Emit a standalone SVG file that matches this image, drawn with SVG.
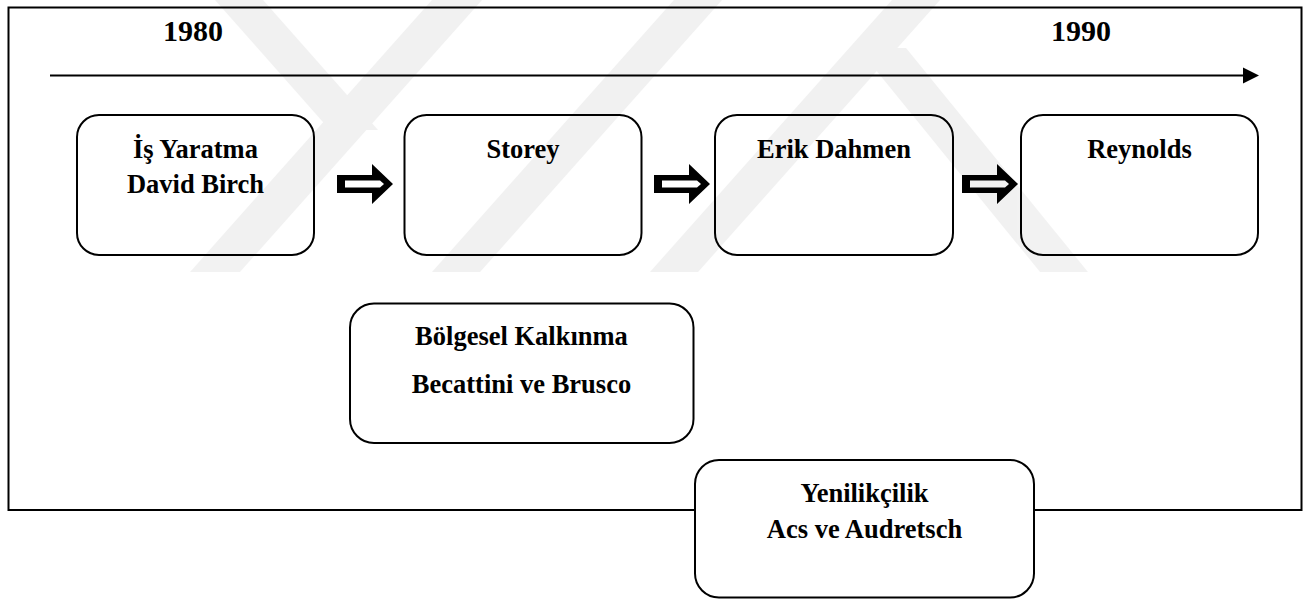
<svg xmlns="http://www.w3.org/2000/svg" width="1311" height="599" viewBox="0 0 1311 599">
  <style>
    .frame { fill: none; stroke: #000; stroke-width: 2; }
    .box { fill: #fff; stroke: #000; stroke-width: 2; }
    .lbl { font-family: "Liberation Serif", "Times New Roman", serif; font-weight: bold; font-size: 26.5px; text-anchor: middle; fill: #000; }
    .year { font-family: "Liberation Serif", "Times New Roman", serif; font-weight: bold; font-size: 30px; text-anchor: middle; fill: #000; }
    .axis { stroke: #000; stroke-width: 2; fill: none; }
  </style>
  <defs>
    <!-- hollow block arrow, tip at (56,0) -->
    <g id="blockArrow">
      <polygon points="0,-9 35,-9 35,-20 56,0 35,20 35,9 0,9" fill="#000"/>
      <polygon points="8,-3.5 43,-3.5 47,0 43,3.5 8,3.5" fill="#fff"/>
    </g>
  </defs>

  <rect width="1311" height="599" fill="#fff"/>

  <!-- outer frame -->
  <rect class="frame" x="8.5" y="7.5" width="1293" height="502.5"/>

  <!-- year labels -->
  <text class="year" x="193" y="41">1980</text>
  <text class="year" x="1081" y="41">1990</text>

  <g id="connectors">
    <!-- time axis -->
    <line class="axis" x1="50" y1="75.5" x2="1245" y2="75.5"/>
    <polygon points="1243,67.5 1259,75.5 1243,83.5" fill="#000"/>
    <!-- step arrows between the periods -->
    <use href="#blockArrow" transform="translate(337,184)"/>
    <use href="#blockArrow" transform="translate(654,184)"/>
    <use href="#blockArrow" transform="translate(962,184)"/>
  </g>

  <g id="node-birch">
    <rect class="box" x="77" y="115" width="237" height="140" rx="22" ry="22"/>
    <text class="lbl" x="195.5" y="158">İş Yaratma</text>
    <text class="lbl" x="195.5" y="193">David Birch</text>
  </g>

  <g id="node-storey">
    <rect class="box" x="404.5" y="115" width="237" height="140" rx="22" ry="22"/>
    <text class="lbl" x="523" y="158">Storey</text>
  </g>

  <g id="node-dahmen">
    <rect class="box" x="715" y="115" width="238" height="140" rx="22" ry="22"/>
    <text class="lbl" x="834" y="158">Erik Dahmen</text>
  </g>

  <g id="node-reynolds">
    <rect class="box" x="1021" y="115" width="237" height="140" rx="22" ry="22"/>
    <text class="lbl" x="1139.5" y="158">Reynolds</text>
  </g>

  <g id="node-regional">
    <rect class="box" x="350" y="303.5" width="343.5" height="139.5" rx="24" ry="24"/>
    <text class="lbl" x="521.5" y="345">Bölgesel Kalkınma</text>
    <text class="lbl" x="521.5" y="393">Becattini ve Brusco</text>
  </g>

  <g id="node-innovation">
    <rect class="box" x="695" y="460" width="339" height="137.5" rx="24" ry="24"/>
    <text class="lbl" x="864.5" y="502">Yenilikçilik</text>
    <text class="lbl" x="864.5" y="538">Acs ve Audretsch</text>
  </g>

  <!-- faint emblem laid over the page -->
  <g id="emblem" fill="#000" opacity="0.05">
    <polygon points="190,272 240,272 482,0 432,0"/>
    <polygon points="215,0 263,0 378,130 330,130"/>
    <polygon points="432,272 480,272 722,0 674,0"/>
    <polygon points="650,272 698,272 940,0 892,0"/>
    <polygon points="858,48 906,48 1088,272 1040,272"/>
  </g>
</svg>
